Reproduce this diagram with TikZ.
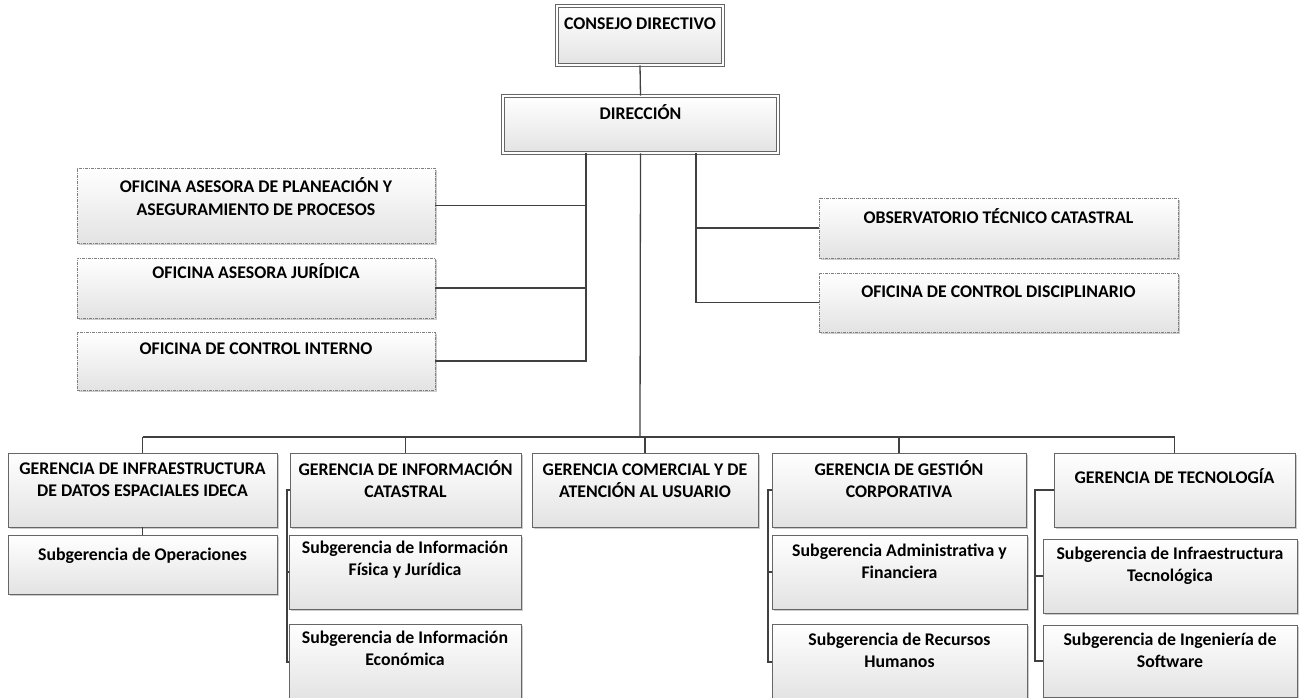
\documentclass[tikz,border=0pt]{standalone}
\usepackage{fontspec}
\setmainfont{Carlito}
\usetikzlibrary{shadows}

\tikzset{
  unit/.style={rectangle, draw=black!60, line width=0.8pt, top color=white, bottom color=black!11,
    drop shadow={shadow xshift=2pt, shadow yshift=-2pt, fill=black!40, opacity=0.5}},
  head/.style={unit, double=white, double distance=1.8pt, line width=0.7pt},
  advisor/.style={unit, draw=black!50, dash pattern=on 3pt off 1pt on 1pt off 1pt},
  boxtext/.style={anchor=base, align=center, inner sep=0pt, font=\bfseries\fontsize{17.8}{22.5}\selectfont},
  twoline/.style={boxtext, yshift=-22.5pt},
  link/.style={draw=black!75, line width=1.3pt}
}

\begin{document}
\begin{tikzpicture}[x=1pt,y=-1pt]
  \useasboundingbox (0,0) rectangle (1307,698);

  % top
  \node[head, minimum width=166, minimum height=59] (consejo) at (640,35.5) {};
  \node[boxtext] at (640,29.5) {CONSEJO DIRECTIVO};
  \node[head, minimum width=275, minimum height=57] (direccion) at (640.5,124.5) {};
  \node[boxtext] at (640.5,119.5) {DIRECCIÓN};

  % offices
  \node[advisor, minimum width=358, minimum height=75] (ofi1) at (256,205.5) {};
  \node[twoline] at (256,192.5) {OFICINA ASESORA DE PLANEACIÓN Y\\ASEGURAMIENTO DE PROCESOS};
  \node[advisor, minimum width=358, minimum height=60] (ofi2) at (256,288) {};
  \node[boxtext] at (256,278.5) {OFICINA ASESORA JURÍDICA};
  \node[advisor, minimum width=358, minimum height=58] (ofi3) at (256,361) {};
  \node[boxtext] at (256,354.5) {OFICINA DE CONTROL INTERNO};
  \node[advisor, minimum width=359, minimum height=60] (obs) at (998.5,228) {};
  \node[boxtext] at (998.5,223) {OBSERVATORIO TÉCNICO CATASTRAL};
  \node[advisor, minimum width=359, minimum height=59] (disc) at (998.5,302.5) {};
  \node[boxtext] at (998.5,297) {OFICINA DE CONTROL DISCIPLINARIO};

  % gerencias
  \node[unit, minimum width=269, minimum height=74] (g1) at (142.5,490) {};
  \node[twoline] at (142.5,474) {GERENCIA DE INFRAESTRUCTURA\\DE DATOS ESPACIALES IDECA};
  \node[unit, minimum width=231, minimum height=74] (g2) at (405.5,490) {};
  \node[twoline] at (405.5,475) {GERENCIA DE INFORMACIÓN\\CATASTRAL};
  \node[unit, minimum width=226, minimum height=74] (g3) at (645,490) {};
  \node[twoline] at (645,475) {GERENCIA COMERCIAL Y DE\\ATENCIÓN AL USUARIO};
  \node[unit, minimum width=254, minimum height=74] (g4) at (899,490) {};
  \node[twoline] at (899,475) {GERENCIA DE GESTIÓN\\CORPORATIVA};
  \node[unit, minimum width=241, minimum height=74] (g5) at (1174.5,490) {};
  \node[boxtext] at (1174.5,483) {GERENCIA DE TECNOLOGÍA};

  % subgerencias
  \node[unit, minimum width=269, minimum height=59] (s11) at (142.5,564.5) {};
  \node[boxtext] at (142.5,560) {Subgerencia de Operaciones};
  \node[unit, minimum width=232, minimum height=74] (s21) at (405,572) {};
  \node[twoline] at (405,553) {Subgerencia de Información\\Física y Jurídica};
  \node[unit, minimum width=232, minimum height=76] (s22) at (405,662) {};
  \node[twoline] at (405,643) {Subgerencia de Información\\Económica};
  \node[unit, minimum width=255, minimum height=74] (s41) at (899.5,572) {};
  \node[twoline] at (899.5,556) {Subgerencia Administrativa y\\Financiera};
  \node[unit, minimum width=255, minimum height=76] (s42) at (899.5,662) {};
  \node[twoline] at (899.5,645) {Subgerencia de Recursos\\Humanos};
  \node[unit, minimum width=254, minimum height=74] (s51) at (1170,576) {};
  \node[twoline] at (1170,559) {Subgerencia de Infraestructura\\Tecnológica};
  \node[unit, minimum width=254, minimum height=72] (s52) at (1170,661) {};
  \node[twoline] at (1170,645) {Subgerencia de Ingeniería de\\Software};

  % connectors
  \coordinate (lbus) at (586,153);
  \coordinate (rbus) at (696,153);
  \coordinate (bus) at (640,437);
  \coordinate (b2) at (287,490);
  \coordinate (b4) at (768,490);
  \coordinate (b5) at (1035,490);

  \draw[link] (consejo.south) -- (direccion.north);
  \draw[link] (lbus) |- (ofi3.east);
  \draw[link] (ofi1.east) -- (ofi1.east -| lbus);
  \draw[link] (ofi2.east) -- (ofi2.east -| lbus);
  \draw[link] (rbus) |- (disc.west);
  \draw[link] (obs.west) -- (obs.west -| rbus);
  \draw[link] (direccion.south) -- (bus);
  \draw[link] (g1.north |- bus) -- (g5.north |- bus);
  \foreach \g in {g1,g2,g3,g4,g5}
    \draw[link] (\g.north |- bus) -- (\g.north);
  \draw[link] (g1.south) -- (s11.north);
  \draw[link] (g2.west) -- (b2) |- (s22.west);
  \draw[link] (s21.west) -- (s21.west -| b2);
  \draw[link] (g4.west) -- (b4) |- (s42.west);
  \draw[link] (s41.west) -- (s41.west -| b4);
  \draw[link] (g5.west) -- (b5) |- (s52.west);
  \draw[link] (s51.west) -- (s51.west -| b5);
\end{tikzpicture}
\end{document}
